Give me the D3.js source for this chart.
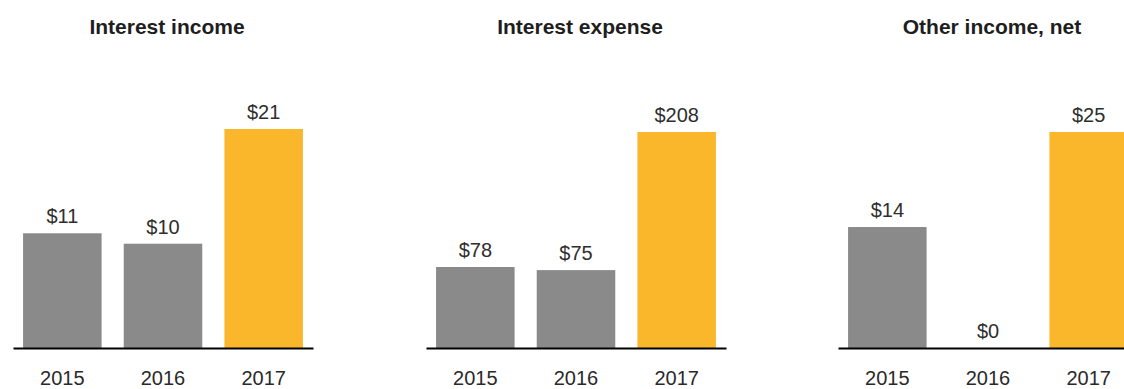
<!DOCTYPE html>
<html>
<head>
<meta charset="utf-8">
<script src="https://cdn.jsdelivr.net/npm/d3@7"></script>
<style>
  html, body { margin: 0; padding: 0; background: #fff; }
  svg { display: block; font-family: "Liberation Sans", Arial, sans-serif; }
</style>
</head>
<body>
<svg id="chart" width="1124" height="389"></svg>
<script>
// Years shown on every panel
const years = ["2015", "2016", "2017"];

// Panel titles and their values (USD millions)
const titles = ["Interest income", "Interest expense", "Other income, net"];
const interestIncome = [11, 10, 21];
const interestExpense = [78, 75, 208];
const otherIncomeNet = [14, 0, 25];

const panels = [
  { title: titles[0], values: interestIncome },
  { title: titles[1], values: interestExpense },
  { title: titles[2], values: otherIncomeNet }
];

// Layout
const panelLeft = [13, 426, 838];
const panelTop = [129, 132, 132];
const panelWidth = 300;
const baseline = 348;
const grey = "#8a8a8a";
const gold = "#fbb72c";

const svg = d3.select("#chart");

panels.forEach((p, i) => {
  const x0 = panelLeft[i];
  const g = svg.append("g");

  const x = d3.scaleBand()
    .domain(years)
    .range([x0, x0 + panelWidth])
    .paddingInner(0.22)
    .paddingOuter(0.1);

  const y = d3.scaleLinear()
    .domain([0, d3.max(p.values)])
    .range([baseline, panelTop[i]]);

  const rows = years.map((yr, k) => ({ year: yr, value: p.values[k] }));

  // Title
  g.append("text")
    .attr("x", x0 + panelWidth / 2 + 4)
    .attr("y", 34)
    .attr("text-anchor", "middle")
    .attr("font-size", 21)
    .attr("font-weight", "bold")
    .attr("fill", "#1e1e1e")
    .text(p.title);

  // Bars
  g.selectAll("rect.bar")
    .data(rows)
    .join("rect")
    .attr("class", "bar")
    .attr("x", d => x(d.year))
    .attr("width", x.bandwidth())
    .attr("y", d => y(d.value))
    .attr("height", d => baseline - y(d.value))
    .attr("fill", (d, k) => k === rows.length - 1 ? gold : grey);

  // Value labels
  g.selectAll("text.val")
    .data(rows)
    .join("text")
    .attr("class", "val")
    .attr("x", d => x(d.year) + x.bandwidth() / 2)
    .attr("y", d => y(d.value) - 10)
    .attr("text-anchor", "middle")
    .attr("font-size", 20)
    .attr("fill", "#2e2e2e")
    .text(d => "$" + d.value);

  // Category axis
  const axis = g.append("g")
    .attr("transform", `translate(0,${baseline})`)
    .call(d3.axisBottom(x).tickSize(0).tickPadding(23));
  axis.select(".domain")
    .attr("stroke", "#000")
    .attr("stroke-width", 2);
  axis.selectAll(".tick text")
    .attr("font-size", 20)
    .attr("font-family", "\"Liberation Sans\", Arial, sans-serif")
    .attr("fill", "#2a2a2a");
});
</script>
</body>
</html>
